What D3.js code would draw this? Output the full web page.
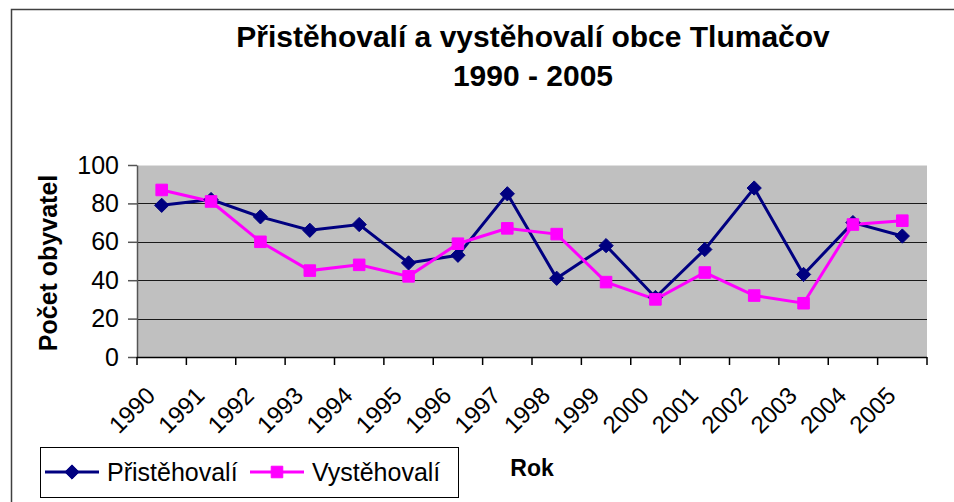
<!DOCTYPE html>
<html>
<head>
<meta charset="utf-8">
<script src="https://cdn.jsdelivr.net/npm/d3@7"></script>
<style>
  body { margin: 0; background: #fff; }
  svg { display: block; font-family: "Liberation Sans", Arial, sans-serif; }
</style>
</head>
<body>
<div id="chart"></div>
<script>
// chart data
var years = ["1990", "1991", "1992", "1993", "1994", "1995", "1996", "1997",
             "1998", "1999", "2000", "2001", "2002", "2003", "2004", "2005"];
var prist = [79, 82, 73, 66, 69, 49, 53, 85, 41, 58, 31, 56, 88, 43, 70, 63];
var vyst = [87, 81, 60, 45, 48, 42, 59, 67, 64, 39, 30, 44, 32, 28, 69, 71];
var yTicks = [0, 20, 40, 60, 80, 100];

var width = 954, height = 502;
var plotLeft = 137, plotRight = 927, plotTop = 165, plotBottom = 357;

var svg = d3.select("#chart").append("svg")
    .attr("width", width)
    .attr("height", height);

// outer frame (only left and top edges visible)
svg.append("path")
    .attr("d", "M11.5," + height + "V9.5H" + width)
    .attr("fill", "none")
    .attr("stroke", "#404040")
    .attr("stroke-width", 1.5);

var x = d3.scaleBand().domain(years).range([plotLeft, plotRight]);
var y = d3.scaleLinear().domain([0, 100]).range([plotBottom, plotTop]);

// plot background
svg.append("rect")
    .attr("x", plotLeft)
    .attr("y", plotTop)
    .attr("width", plotRight - plotLeft)
    .attr("height", plotBottom - plotTop)
    .attr("fill", "#C0C0C0");

svg.append("line")
    .attr("x1", plotLeft).attr("x2", plotRight)
    .attr("y1", plotTop + 0.5).attr("y2", plotTop + 0.5)
    .attr("stroke", "#e0e0e0");

// gridlines
svg.selectAll("line.grid")
    .data(yTicks.filter(function (d) { return d > 0 && d < 100; }))
    .enter()
    .append("line")
    .attr("class", "grid")
    .attr("x1", plotLeft)
    .attr("x2", plotRight)
    .attr("y1", function (d) { return Math.round(y(d)) + 0.5; })
    .attr("y2", function (d) { return Math.round(y(d)) + 0.5; })
    .attr("stroke", "#1a1a1a")
    .attr("stroke-width", 1.2);

// y axis
var yAxis = svg.append("g")
    .attr("transform", "translate(" + plotLeft + ",0)")
    .call(d3.axisLeft(y).tickValues(yTicks).tickSize(9).tickPadding(9).tickSizeOuter(0));
yAxis.select(".domain").attr("stroke", "#555").attr("stroke-width", 1.5);
yAxis.selectAll(".tick line").attr("stroke", "#555").attr("stroke-width", 1.5);
yAxis.selectAll("text")
    .attr("font-size", "25px")
    .attr("font-family", "'Liberation Sans', Arial, sans-serif")
    .attr("fill", "#000");

// x axis, ticks between categories
var bounds = years.map(function (d) { return x(d); }).concat([plotRight]);
var xAxis = svg.append("g");
xAxis.append("line")
    .attr("x1", plotLeft).attr("x2", plotRight)
    .attr("y1", plotBottom + 0.5).attr("y2", plotBottom + 0.5)
    .attr("stroke", "#000")
    .attr("stroke-width", 1.5);
xAxis.selectAll("line.xtick")
    .data(bounds)
    .enter()
    .append("line")
    .attr("class", "xtick")
    .attr("x1", function (d) { return d; })
    .attr("x2", function (d) { return d; })
    .attr("y1", plotBottom)
    .attr("y2", plotBottom + 8)
    .attr("stroke", "#000")
    .attr("stroke-width", 1.5);
xAxis.selectAll("text")
    .data(years)
    .enter()
    .append("text")
    .text(function (d) { return d; })
    .attr("text-anchor", "end")
    .attr("font-size", "24px")
    .attr("transform", function (d) {
        return "translate(" + (x(d) + x.bandwidth() / 2 - 5) + "," + (plotBottom + 40) + ") rotate(-45)";
    });

// lines and markers
var line = d3.line()
    .x(function (d, i) { return x(years[i]) + x.bandwidth() / 2; })
    .y(function (d) { return y(d); });

svg.append("path")
    .datum(prist)
    .attr("d", line)
    .attr("fill", "none")
    .attr("stroke", "#000080")
    .attr("stroke-width", 3);

svg.append("path")
    .datum(vyst)
    .attr("d", line)
    .attr("fill", "none")
    .attr("stroke", "#FF00FF")
    .attr("stroke-width", 3);

var diamond = d3.symbol().type(d3.symbolDiamond2).size(130);
var square = d3.symbol().type(d3.symbolSquare2).size(170);

svg.selectAll("path.pm")
    .data(prist)
    .enter()
    .append("path")
    .attr("class", "pm")
    .attr("d", diamond)
    .attr("transform", function (d, i) {
        return "translate(" + (x(years[i]) + x.bandwidth() / 2) + "," + y(d) + ")";
    })
    .attr("fill", "#000080")
    .attr("stroke", "#000080");

svg.selectAll("path.vm")
    .data(vyst)
    .enter()
    .append("path")
    .attr("class", "vm")
    .attr("d", square)
    .attr("transform", function (d, i) {
        return "translate(" + (x(years[i]) + x.bandwidth() / 2) + "," + y(d) + ")";
    })
    .attr("fill", "#FF00FF")
    .attr("stroke", "#FF00FF");

// titles
svg.append("text")
    .text("Přistěhovalí a vystěhovalí obce Tlumačov")
    .attr("x", 533).attr("y", 47)
    .attr("text-anchor", "middle")
    .attr("font-size", "30px")
    .attr("font-weight", "bold");
svg.append("text")
    .text("1990 - 2005")
    .attr("x", 533).attr("y", 86)
    .attr("text-anchor", "middle")
    .attr("font-size", "30px")
    .attr("font-weight", "bold");

svg.append("text")
    .text("Počet obyvatel")
    .attr("transform", "translate(57," + ((plotTop + plotBottom) / 2 + 2) + ") rotate(-90)")
    .attr("text-anchor", "middle")
    .attr("font-size", "25px")
    .attr("font-weight", "bold");

svg.append("text")
    .text("Rok")
    .attr("x", 532).attr("y", 476)
    .attr("text-anchor", "middle")
    .attr("font-size", "23px")
    .attr("font-weight", "bold");

// legend
var legend = svg.append("g");
legend.append("rect")
    .attr("x", 40.5).attr("y", 447.5)
    .attr("width", 418).attr("height", 50)
    .attr("fill", "#fff")
    .attr("stroke", "#000")
    .attr("stroke-width", 1);

var items = [
    { name: "Přistěhovalí", color: "#000080", sym: diamond, x0: 45 },
    { name: "Vystěhovalí", color: "#FF00FF", sym: square, x0: 250 }
];
items.forEach(function (it) {
    legend.append("line")
        .attr("x1", it.x0).attr("x2", it.x0 + 54)
        .attr("y1", 472).attr("y2", 472)
        .attr("stroke", it.color)
        .attr("stroke-width", 3);
    legend.append("path")
        .attr("d", it.sym)
        .attr("transform", "translate(" + (it.x0 + 27) + ",472)")
        .attr("fill", it.color)
        .attr("stroke", it.color);
    legend.append("text")
        .text(it.name)
        .attr("x", it.x0 + 62).attr("y", 481)
        .attr("font-size", "25px");
});
</script>
</body>
</html>
